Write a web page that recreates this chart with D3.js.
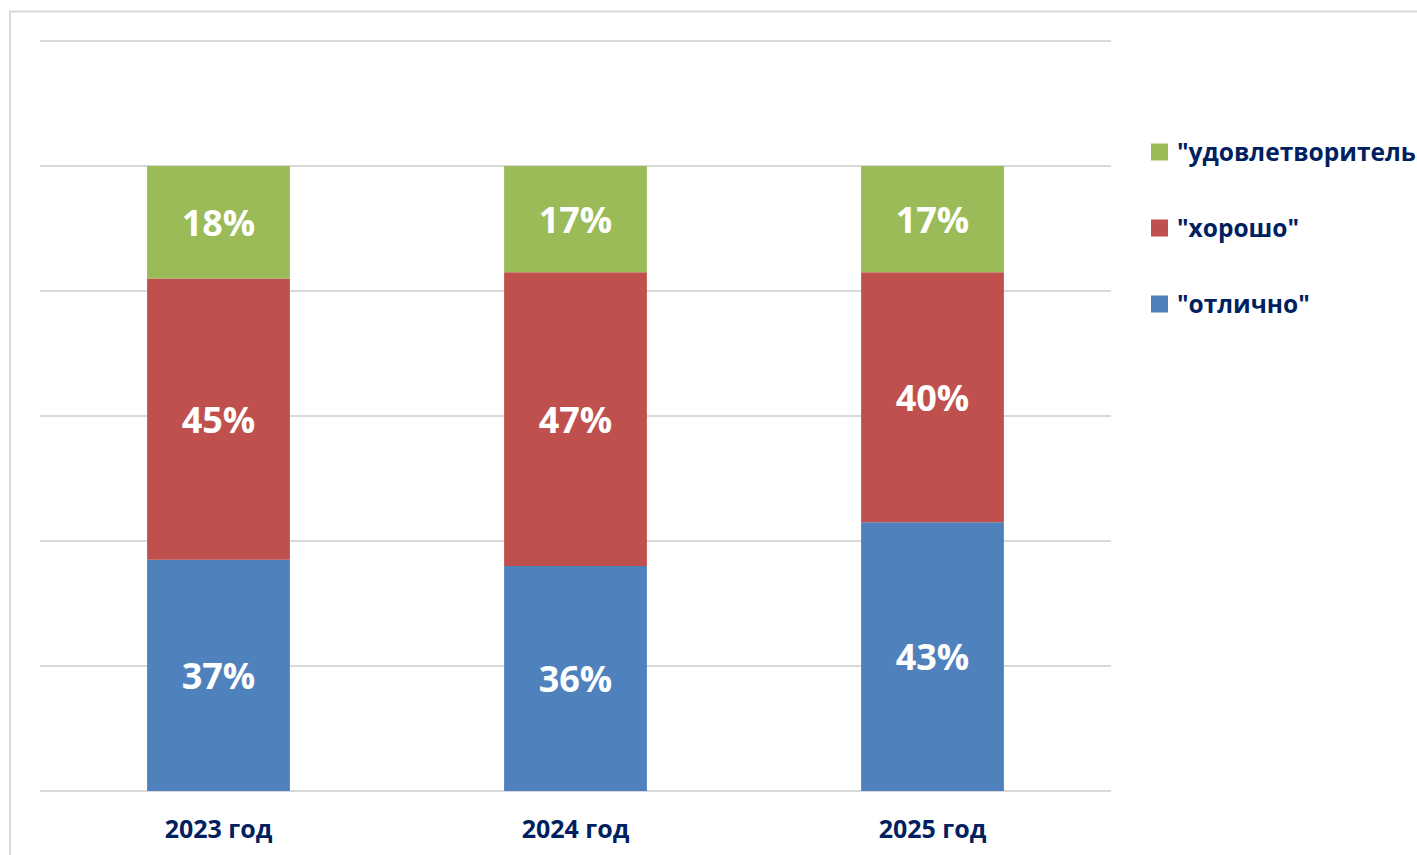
<!DOCTYPE html>
<html>
<head>
<meta charset="utf-8">
<script src="https://cdn.jsdelivr.net/npm/d3@7"></script>
<style>
  body { margin: 0; background: #fff; }
  svg { display: block; }
</style>
</head>
<body>
<div id="chart"></div>
<script>
// data
const years = ["2023 год", "2024 год", "2025 год"];
const seriesNames = ["\"отлично\"", "\"хорошо\"", "\"удовлетворительно\""];
const seriesColors = ["#4f81bd", "#c0504d", "#9bbb59"];
const excellent = [37, 36, 43];
const good = [45, 47, 40];
const satisfactory = [18, 17, 17];
const yTicks = [0, 20, 40, 60, 80, 100, 120];

const W = 1417, H = 855;
const plot = { left: 40, right: 1111, top: 41, bottom: 791 };

const svg = d3.select("#chart").append("svg")
  .attr("width", W)
  .attr("height", H);

// outer frame (runs off the right / bottom edge)
svg.append("rect")
  .attr("x", 10).attr("y", 11.5)
  .attr("width", W).attr("height", H)
  .attr("fill", "none")
  .attr("stroke", "#d9d9d9")
  .attr("stroke-width", 2);

const x = d3.scaleBand()
  .domain(years)
  .range([plot.left, plot.right])
  .paddingInner(0.6)
  .paddingOuter(0.3);

const y = d3.scaleLinear()
  .domain([0, 120])
  .range([plot.bottom, plot.top]);

// gridlines
svg.append("g")
  .selectAll("line")
  .data(yTicks)
  .join("line")
  .attr("x1", plot.left).attr("x2", plot.right)
  .attr("y1", d => y(d)).attr("y2", d => y(d))
  .attr("stroke", "#d9d9d9")
  .attr("stroke-width", 2);

// stack
const rows = years.map((yr, i) => ({
  year: yr, s0: excellent[i], s1: good[i], s2: satisfactory[i]
}));
const stack = d3.stack().keys(["s0", "s1", "s2"])(rows);

const layers = svg.append("g").selectAll("g")
  .data(stack)
  .join("g")
  .attr("fill", (d, i) => seriesColors[i]);

layers.selectAll("rect")
  .data(d => d)
  .join("rect")
  .attr("x", d => x(d.data.year))
  .attr("width", x.bandwidth())
  .attr("y", d => y(d[1]))
  .attr("height", d => y(d[0]) - y(d[1]));

layers.selectAll("text")
  .data(d => d)
  .join("text")
  .attr("x", d => x(d.data.year) + x.bandwidth() / 2)
  .attr("y", d => (y(d[0]) + y(d[1])) / 2)
  .attr("dy", "0.38em")
  .attr("text-anchor", "middle")
  .attr("fill", "#fff")
  .attr("font-family", "'Open Sans', sans-serif")
  .attr("font-weight", "bold")
  .attr("font-size", 36)
  .text(d => (d[1] - d[0]) + "%");

// x axis labels
const xAxis = d3.axisBottom(x).tickSize(0).tickPadding(0);
svg.append("g")
  .attr("transform", `translate(0,${plot.bottom})`)
  .call(xAxis)
  .call(g => g.select(".domain").remove())
  .selectAll("text")
  .attr("y", 47)
  .attr("dy", 0)
  .attr("fill", "#002060")
  .attr("font-family", "'Open Sans', sans-serif")
  .attr("font-weight", "bold")
  .attr("font-size", 25);

// legend, top entry is the top segment
const legendY = [304, 228, 152];
const legend = svg.append("g").selectAll("g")
  .data(seriesNames)
  .join("g")
  .attr("transform", (d, i) => `translate(1151,${legendY[i]})`);

legend.append("rect")
  .attr("x", 0).attr("y", -8.5)
  .attr("width", 17).attr("height", 17)
  .attr("fill", (d, i) => seriesColors[i]);

legend.append("text")
  .attr("x", 26)
  .attr("y", 0)
  .attr("dy", "0.35em")
  .attr("fill", "#002060")
  .attr("font-family", "'Open Sans', sans-serif")
  .attr("font-weight", "bold")
  .attr("font-size", 24.5)
  .text(d => d);
</script>
</body>
</html>
